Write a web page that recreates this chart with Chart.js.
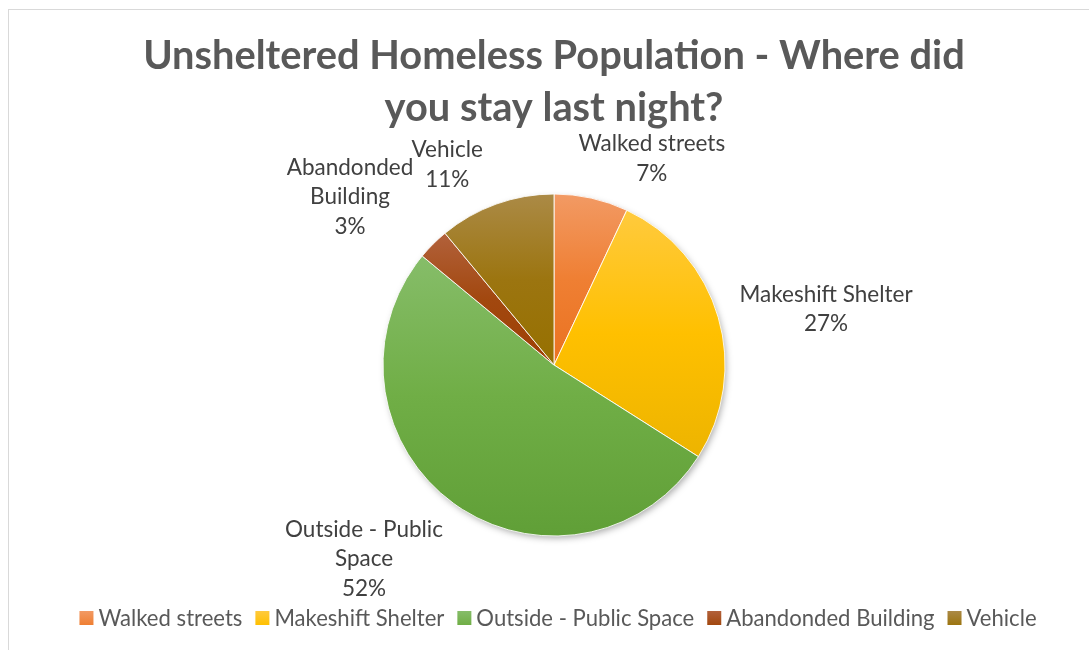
<!DOCTYPE html>
<html>
<head>
<meta charset="utf-8">
<script src="https://cdn.jsdelivr.net/npm/chart.js@4/dist/chart.umd.min.js"></script>
<style>
  html, body { margin: 0; padding: 0; background: #fff; }
  #wrap { position: relative; width: 1089px; height: 650px; overflow: hidden; }
  #frame { position: absolute; left: 8px; top: 9px; width: 1100px; height: 700px;
           border-top: 1px solid #d9d9d9; border-left: 1px solid #d9d9d9; }
  #myChart { position: absolute; left: 0; top: 0; }
</style>
</head>
<body>
<div id="wrap">
  <div id="frame"></div>
  <canvas id="myChart" width="1089" height="650"></canvas>
</div>
<script>
// survey answers, share of unsheltered respondents (%)
var places = ['Walked streets', 'Makeshift Shelter', 'Outside - Public Space', 'Abandonded Building', 'Vehicle'];
var shares = [7, 27, 52, 3, 11];

// slice fills: light top -> base -> darker bottom
var baseColors = ['#ED7D31', '#FFC000', '#70AD47', '#9E480E', '#997300'];
var topColors = ['#F29A64', '#FFCA3E', '#86BD69', '#B2613B', '#AB8A46'];
var midColors = ['#EF7F33', '#FFC000', '#70AE46', '#A2480F', '#9C7510'];
var lowColors = ['#EA7220', '#EDB400', '#609F37', '#9E3F04', '#967000'];

// where each data label sits: radius factor and angle nudge (deg) from the slice middle
var labelSpots = [
  { k: 1.334, da: 12.8 },
  { k: 1.624, da: 4.6 },
  { k: 1.588, da: 8.4 },
  { k: 1.546, da: -5.5 },
  { k: 1.326, da: -8.3 }
];

var FONT = 'Lato';
var PIE_R = 171;

// vertical extent of an arc slice so the gradient covers only that slice
function sliceExtent(cy, r, a0, a1) {
  var ys = [cy, cy + Math.sin(a0) * r, cy + Math.sin(a1) * r];
  [-Math.PI / 2, Math.PI / 2, 3 * Math.PI / 2, 5 * Math.PI / 2].forEach(function (a) {
    if (a > a0 && a < a1) ys.push(cy + Math.sin(a) * r);
  });
  return [Math.min.apply(null, ys), Math.max.apply(null, ys)];
}

function sliceFill(ctx) {
  var chart = ctx.chart, i = ctx.dataIndex;
  var area = chart.chartArea;
  if (!area) return baseColors[i];
  var total = shares.reduce(function (a, b) { return a + b; }, 0);
  var before = 0;
  for (var j = 0; j < i; j++) before += shares[j];
  var a0 = -Math.PI / 2 + before / total * 2 * Math.PI;
  var a1 = a0 + shares[i] / total * 2 * Math.PI;
  var cy = (area.top + area.bottom) / 2;
  var ext = sliceExtent(cy, PIE_R, a0, a1);
  var g = chart.ctx.createLinearGradient(0, ext[0], 0, ext[1]);
  g.addColorStop(0, topColors[i]);
  g.addColorStop(0.5, midColors[i]);
  g.addColorStop(1, lowColors[i]);
  return g;
}

// soft shadow under the pie
var pieShadow = {
  id: 'pieShadow',
  beforeDatasetsDraw: function (chart) {
    var arc = chart.getDatasetMeta(0).data[0];
    if (!arc) return;
    var p = arc.getProps(['x', 'y', 'outerRadius'], true);
    var c = chart.ctx;
    c.save();
    c.shadowColor = 'rgba(0,0,0,0.35)';
    c.shadowBlur = 7;
    c.shadowOffsetX = 2;
    c.shadowOffsetY = 3;
    c.fillStyle = '#ffffff';
    c.beginPath();
    c.arc(p.x, p.y, p.outerRadius - 1, 0, Math.PI * 2);
    c.fill();
    c.restore();
  }
};

// wrap a category name to the label width
function wrapText(c, text, maxW) {
  var words = text.split(' ');
  var lines = [], cur = '';
  words.forEach(function (w) {
    var t = cur ? cur + ' ' + w : w;
    if (cur && c.measureText(t).width > maxW) {
      lines.push(cur);
      cur = w;
    } else {
      cur = t;
    }
  });
  if (cur) lines.push(cur);
  return lines;
}

// category name + percent next to each slice
var sliceLabels = {
  id: 'sliceLabels',
  afterDatasetsDraw: function (chart) {
    var c = chart.ctx;
    var total = shares.reduce(function (a, b) { return a + b; }, 0);
    c.save();
    c.font = '22.5px ' + FONT;
    c.fillStyle = '#404040';
    c.textAlign = 'center';
    c.textBaseline = 'middle';
    chart.getDatasetMeta(0).data.forEach(function (arc, i) {
      var p = arc.getProps(['x', 'y', 'startAngle', 'endAngle', 'outerRadius'], true);
      var spot = labelSpots[i];
      var a = (p.startAngle + p.endAngle) / 2 + spot.da * Math.PI / 180;
      var lx = p.x + Math.cos(a) * p.outerRadius * spot.k;
      var ly = p.y + Math.sin(a) * p.outerRadius * spot.k;
      var lines = wrapText(c, places[i], 190);
      lines.push(Math.round(shares[i] / total * 100) + '%');
      var lh = 29.5;
      var y0 = ly - (lines.length - 1) * lh / 2;
      lines.forEach(function (t, n) {
        c.fillText(t, lx, y0 + n * lh);
      });
    });
    c.restore();
  }
};

// legend row under the pie: small square, tight gap, then the name
var bottomLegend = {
  id: 'bottomLegend',
  afterDraw: function (chart) {
    var c = chart.ctx;
    var box = 14, gap = 5, spacing = 13, rowY = 618;
    c.save();
    c.font = '22.1px ' + FONT;
    c.textBaseline = 'middle';
    c.textAlign = 'left';
    var labels = chart.data.labels;
    var widths = labels.map(function (t) { return c.measureText(t).width; });
    var full = widths.reduce(function (s, w) { return s + box + gap + w; }, 0) + spacing * (labels.length - 1);
    var x = (chart.chartArea.left + chart.chartArea.right) / 2 + 4 - full / 2;
    labels.forEach(function (t, i) {
      var g = c.createLinearGradient(0, rowY - box / 2, 0, rowY + box / 2);
      g.addColorStop(0, topColors[i]);
      g.addColorStop(1, midColors[i]);
      c.fillStyle = g;
      c.fillRect(x, rowY - box / 2, box, box);
      c.fillStyle = '#595959';
      c.fillText(t, x + box + gap, rowY + 1);
      x += box + gap + widths[i] + spacing;
    });
    c.restore();
  }
};

new Chart('myChart', {
  type: 'pie',
  data: {
    labels: places,
    datasets: [{
      data: shares,
      backgroundColor: sliceFill,
      borderColor: 'rgba(255,255,255,0.85)',
      borderWidth: 1,
      radius: PIE_R
    }]
  },
  options: {
    responsive: false,
    animation: false,
    layout: { padding: { left: 19, right: 0, top: 0, bottom: 54 } },
    plugins: {
      title: {
        display: true,
        text: ['Unsheltered Homeless Population - Where did', 'you stay last night?'],
        color: '#595959',
        font: { family: FONT, size: 39.8, weight: 'bold', lineHeight: '52px' },
        padding: { top: 30, bottom: 0 }
      },
      legend: { display: false },
      tooltip: { enabled: false }
    }
  },
  plugins: [pieShadow, sliceLabels, bottomLegend]
});
</script>
</body>
</html>
